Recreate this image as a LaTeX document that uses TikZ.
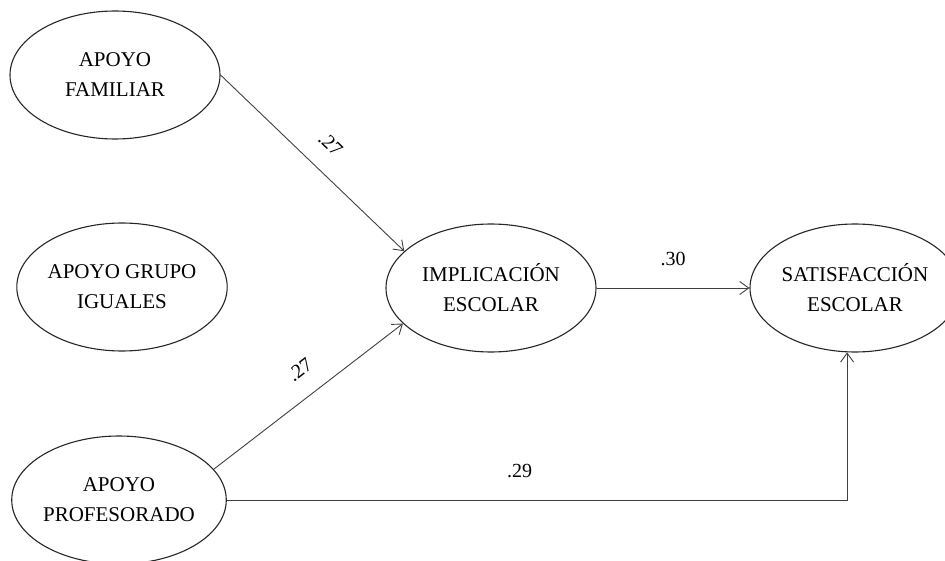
\documentclass[tikz,border=0pt]{standalone}
\usepackage{fontspec}
\setmainfont{Liberation Serif}
\usetikzlibrary{shapes.geometric,arrows.meta}
\begin{document}
\begin{tikzpicture}[x=1pt,y=-1pt,
  construct/.style={ellipse, draw=black!85, line width=1.1pt,
    minimum width=210pt, minimum height=128pt, inner sep=0pt,
    align=center, font=\fontsize{21}{30}\selectfont},
  link/.style={draw=black!75, line width=0.9pt,
    -{Straight Barb[length=9pt,width=13pt,line width=0.9pt]}},
  coef/.style={font=\fontsize{20}{24}\selectfont, inner sep=2pt, text=black}
]
\useasboundingbox (0,0) rectangle (945,561);

% latent constructs
\node[construct] (fam)  at (115,75)  {APOYO\\FAMILIAR};
\node[construct] (grp)  at (122,287) {APOYO GRUPO\\IGUALES};
\node[construct] (prof) at (119,500) {APOYO\\PROFESORADO};
\node[construct] (impl) at (491,288) {IMPLICACIÓN\\ESCOLAR};
\node[construct, inner xsep=-15pt] (sat) at (855,288) {SATISFACCIÓN\\ESCOLAR};

% structural paths with standardized coefficients
\draw[link] (fam.0) -- node[coef, sloped, above=17pt, pos=0.5] (c1) {.27} (impl.157);
\draw[link] (prof.18) -- node[coef, sloped, above=17pt, pos=0.54] (c2) {.27} (impl.202);
\draw[link] (impl.east) -- node[coef, above=20pt] (c3) {.30} (sat.west);
\draw[link] (prof.east) -| node[coef, above=20pt, pos=0.236] (c4) {.29} (sat.263);
\end{tikzpicture}
\end{document}
